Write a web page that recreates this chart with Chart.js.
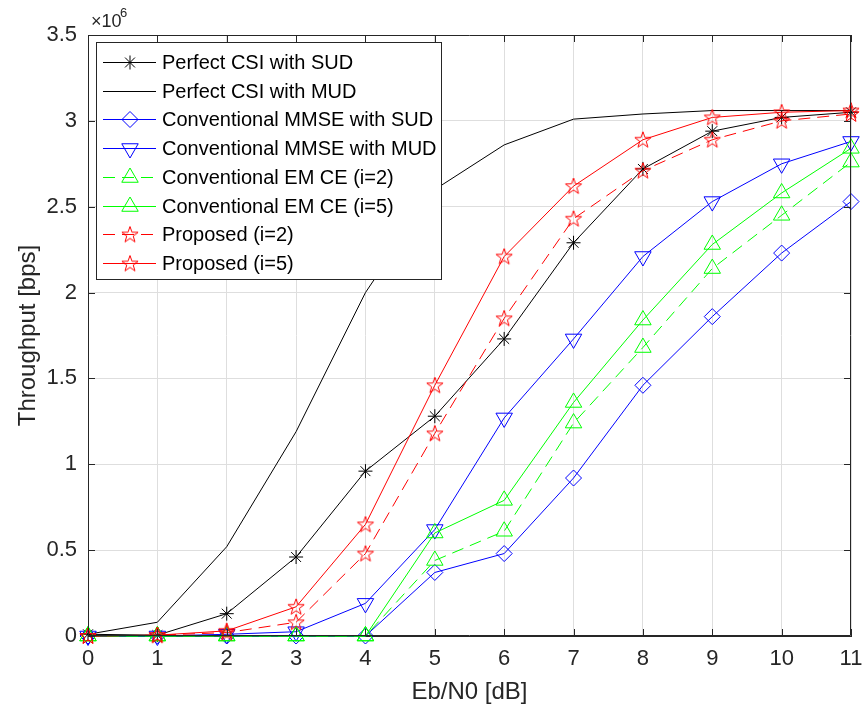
<!DOCTYPE html>
<html>
<head>
<meta charset="utf-8">
<script src="https://cdn.jsdelivr.net/npm/chart.js@4.4.1/dist/chart.umd.min.js"></script>
<style>
  html, body { margin: 0; padding: 0; background: #fff; }
  canvas { display: block; }
</style>
</head>
<body>
<canvas id="tpChart" width="867" height="715"></canvas>
<script>
// values in units of 1e6 bps
const ebn0 = [0, 1, 2, 3, 4, 5, 6, 7, 8, 9, 10, 11];
const perfectSud = [0.01, 0.005, 0.13, 0.46, 0.96, 1.28, 1.73, 2.29, 2.72, 2.94, 3.02, 3.05];
const perfectMud = [0.01, 0.08, 0.52, 1.19, 2.00, 2.60, 2.86, 3.01, 3.04, 3.06, 3.06, 3.06];
const mmseSud = [0, 0, 0, 0, 0, 0.37, 0.48, 0.92, 1.46, 1.86, 2.23, 2.53];
const mmseMud = [0, 0, 0.01, 0.025, 0.19, 0.62, 1.27, 1.73, 2.21, 2.53, 2.75, 2.88];
const emI2 = [0, 0, 0, 0, 0, 0.44, 0.61, 1.24, 1.68, 2.14, 2.45, 2.76];
const emI5 = [0, 0, 0, 0, 0, 0.60, 0.79, 1.36, 1.84, 2.28, 2.58, 2.84];
const propI2 = [0, 0.005, 0.02, 0.08, 0.48, 1.18, 1.85, 2.43, 2.71, 2.89, 3.00, 3.04];
const propI5 = [0, 0.005, 0.03, 0.17, 0.65, 1.46, 2.21, 2.62, 2.89, 3.02, 3.05, 3.06];
const yTickLabels = ['0', '0.5', '1', '1.5', '2', '2.5', '3', '3.5'];
const xTickLabels = ['0', '1', '2', '3', '4', '5', '6', '7', '8', '9', '10', '11'];

const FONT = "'Liberation Sans', Arial, Helvetica, sans-serif";
const AXIS = '#262626';
const DASH = [12, 7];

// five point star marker (matlab 'p')
function pentagram(color) {
  const c = document.createElement('canvas');
  c.width = 20; c.height = 20;
  const g = c.getContext('2d');
  g.strokeStyle = color;
  g.lineWidth = 1;
  g.beginPath();
  for (let k = 0; k < 10; k++) {
    const r = k % 2 === 0 ? 8.5 : 3.4;
    const a = -Math.PI / 2 + k * Math.PI / 5;
    const px = 10 + r * Math.cos(a), py = 10.5 + r * Math.sin(a);
    if (k === 0) g.moveTo(px, py); else g.lineTo(px, py);
  }
  g.closePath();
  g.stroke();
  return c;
}
const redStar = pentagram('#ff0000');

function series(label, values, color, marker, extra) {
  return Object.assign({
    label: label,
    data: values.map((v, i) => ({ x: ebn0[i], y: v })),
    borderColor: color,
    backgroundColor: color,
    lineColor: color,
    borderWidth: 1,
    pointStyle: marker,
    pointRadius: 7,
    pointBorderColor: color,
    pointBackgroundColor: 'rgba(0,0,0,0)',
    pointBorderWidth: 1,
    tension: 0,
    clip: false
  }, extra || {});
}

const datasets = [
  series('Perfect CSI with SUD', perfectSud, '#000000', 'star', { pointRadius: 7 }),
  series('Perfect CSI with MUD', perfectMud, '#000000', false, { pointRadius: 0 }),
  series('Conventional MMSE with SUD', mmseSud, '#0000ff', 'rectRot', { pointRadius: 8 }),
  series('Conventional MMSE with MUD', mmseMud, '#0000ff', 'triangle', { pointRadius: 9.5, pointRotation: 180 }),
  series('Conventional EM CE (i=2)', emI2, '#00ff00', 'triangle', { pointRadius: 9.5, borderDash: DASH }),
  series('Conventional EM CE (i=5)', emI5, '#00ff00', 'triangle', { pointRadius: 9.5 }),
  series('Proposed (i=2)', propI2, '#ff0000', redStar, { borderDash: DASH }),
  series('Proposed (i=5)', propI5, '#ff0000', redStar)
];
datasets.forEach((d, i) => { d.order = datasets.length - i; });

const matlabFrame = {
  id: 'matlabFrame',
  afterDatasetsDraw(chart) {
    const ctx = chart.ctx;
    const a = chart.chartArea;
    const xs = chart.scales.x, ys = chart.scales.y;
    ctx.save();
    ctx.strokeStyle = AXIS;
    ctx.lineWidth = 1;
    ctx.beginPath();
    ctx.rect(a.left + 0.5, a.top + 0.5, a.right - a.left - 1, a.bottom - a.top - 1);
    ctx.stroke();
    // inward ticks
    ctx.beginPath();
    ebn0.forEach(v => {
      const px = Math.round(xs.getPixelForValue(v)) + 0.5;
      ctx.moveTo(px, a.bottom); ctx.lineTo(px, a.bottom - 7);
      ctx.moveTo(px, a.top); ctx.lineTo(px, a.top + 7);
    });
    yTickLabels.forEach((t, i) => {
      const py = Math.round(ys.getPixelForValue(i * 0.5)) + 0.5;
      ctx.moveTo(a.left, py); ctx.lineTo(a.left + 7, py);
      ctx.moveTo(a.right, py); ctx.lineTo(a.right - 7, py);
    });
    ctx.stroke();

    // exponent label
    ctx.fillStyle = AXIS;
    ctx.textBaseline = 'alphabetic';
    ctx.textAlign = 'left';
    ctx.font = '18px ' + FONT;
    ctx.fillText('\u00d710', 91, 27);
    ctx.font = '13px ' + FONT;
    ctx.fillText('6', 120, 17);

    // legend box
    const lx = 96, ly = 42, lw = 345, lh = 237;
    ctx.fillStyle = '#ffffff';
    ctx.fillRect(lx, ly, lw, lh);
    ctx.strokeStyle = AXIS;
    ctx.strokeRect(lx + 0.5, ly + 0.5, lw, lh);
    ctx.font = '20px ' + FONT;
    ctx.textBaseline = 'middle';
    chart.data.datasets.forEach((d, i) => {
      const cy = Math.round(62 + i * 28.7) + 0.5;
      ctx.save();
      ctx.strokeStyle = d.lineColor;
      ctx.lineWidth = 1;
      ctx.setLineDash(d.borderDash ? DASH : []);
      ctx.beginPath();
      ctx.moveTo(103, cy);
      ctx.lineTo(156, cy);
      ctx.stroke();
      ctx.setLineDash([]);
      if (d.pointStyle) {
        ctx.fillStyle = 'rgba(0,0,0,0)';
        Chart.helpers.drawPoint(ctx, {
          pointStyle: d.pointStyle,
          rotation: d.pointRotation || 0,
          radius: d.pointRadius,
          borderWidth: 1
        }, 130, cy);
      }
      ctx.restore();
      ctx.fillStyle = '#000000';
      ctx.fillText(d.label, 162, cy + 1);
    });
    ctx.restore();
  }
};

new Chart(document.getElementById('tpChart'), {
  type: 'line',
  data: { datasets: datasets },
  options: {
    responsive: false,
    animation: false,
    devicePixelRatio: 1,
    layout: { padding: { left: 0, top: 35, right: 16, bottom: 0 } },
    plugins: {
      legend: { display: false },
      tooltip: { enabled: false }
    },
    scales: {
      x: {
        type: 'linear',
        min: 0,
        max: 11,
        afterFit: s => { s.height = 79; s.paddingLeft = 0; s.paddingRight = 0; },
        afterBuildTicks: s => { s.ticks = ebn0.map(v => ({ value: v })); },
        ticks: {
          callback: (v, i) => xTickLabels[i],
          font: { family: FONT, size: 22 },
          color: AXIS,
          padding: 10,
          maxRotation: 0
        },
        grid: { color: '#dedede', drawTicks: false },
        border: { color: AXIS },
        title: {
          display: true,
          text: 'Eb/N0 [dB]',
          font: { family: FONT, size: 24 },
          color: AXIS,
          padding: { top: 0, bottom: 8 }
        }
      },
      y: {
        min: 0,
        max: 3.5,
        afterFit: s => { s.width = 88; s.paddingTop = 0; s.paddingBottom = 0; },
        afterBuildTicks: s => { s.ticks = yTickLabels.map((t, i) => ({ value: i * 0.5 })); },
        ticks: {
          callback: (v, i) => yTickLabels[i],
          font: { family: FONT, size: 22 },
          color: AXIS,
          padding: 11
        },
        grid: { color: '#dedede', drawTicks: false },
        border: { color: AXIS },
        title: {
          display: true,
          text: 'Throughput [bps]',
          font: { family: FONT, size: 24 },
          color: AXIS,
          padding: { top: 14, bottom: 0 }
        }
      }
    }
  },
  plugins: [matlabFrame]
});
</script>
</body>
</html>
